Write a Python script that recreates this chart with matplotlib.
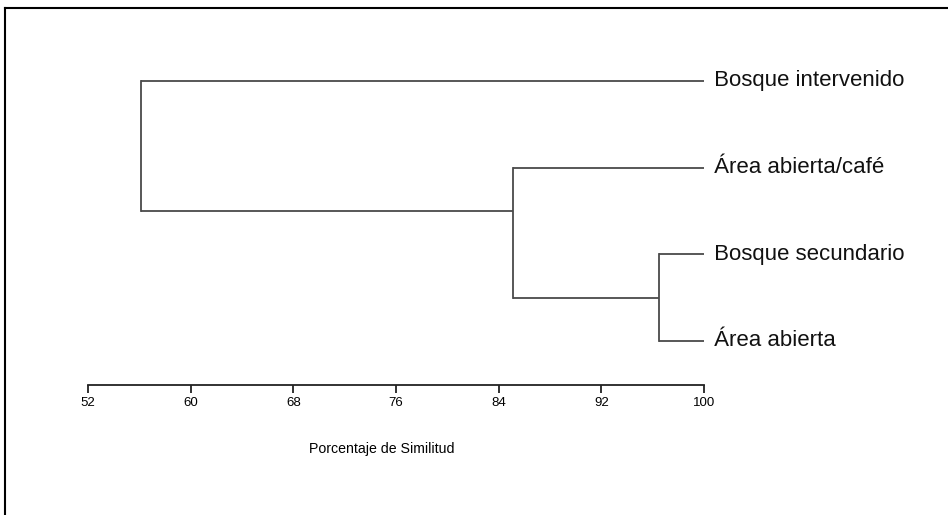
import matplotlib.pyplot as plt
from matplotlib.lines import Line2D

plt.rcParams['font.family'] = ['Liberation Sans', 'DejaVu Sans']

# leaves, top to bottom
labels = ["Bosque intervenido", "Área abierta/café", "Bosque secundario", "Área abierta"]
# merges: (child a, child b, similarity %); children are leaf indices or "n<k>" for earlier merges
merges = [
    (2, 3, 96.5),
    (1, "n0", 85.1),
    (0, "n1", 56.1),
]
ticks = [52, 60, 68, 76, 84, 92, 100]

line_color = '#4a4a4a'

fig = plt.figure(figsize=(9.48, 5.15), dpi=100)
ax = fig.add_axes([88 / 948, 1 - 385 / 515, 616 / 948, 325 / 515])

# node positions (x = similarity, y = row)
pos = {i: (100.0, float(i)) for i in range(len(labels))}
first_leaf = {i: i for i in range(len(labels))}
for k, (a, b, h) in enumerate(merges):
    key = "n%d" % k
    xa, ya = pos[a]
    xb, yb = pos[b]
    ax.plot([xa, h], [ya, ya], color=line_color, lw=1.3, solid_capstyle='butt')
    ax.plot([xb, h], [yb, yb], color=line_color, lw=1.3, solid_capstyle='butt')
    ax.plot([h, h], [ya, yb], color=line_color, lw=1.3, solid_capstyle='projecting')
    first_leaf[key] = min(first_leaf[a], first_leaf[b])
    pos[key] = (h, (first_leaf[a] + first_leaf[b]) / 2.0)

for i, lab in enumerate(labels):
    ax.text(100.35, i, " " + lab, ha='left', va='center', fontsize=16,
            color='#111111', clip_on=False)

ax.set_xlim(52, 100)
ax.set_ylim(3.5077, -0.2423)

for s in ['top', 'right', 'left']:
    ax.spines[s].set_visible(False)
ax.spines['bottom'].set_color('#222222')
ax.spines['bottom'].set_linewidth(1.3)
ax.set_yticks([])
ax.set_xticks(ticks)
ax.set_xticklabels([str(t) for t in ticks], fontsize=9.5)
ax.tick_params(axis='x', direction='out', length=6, width=1.3, color='#222222', pad=3)
ax.set_xlabel("Porcentaje de Similitud", fontsize=10.2)
ax.xaxis.set_label_coords(0.477, -0.175)

# frame: only top and left edges visible (picture is cropped)
fig.add_artist(Line2D([5 / 948, 1], [1 - 8 / 515, 1 - 8 / 515], transform=fig.transFigure,
                      color='black', lw=1.5))
fig.add_artist(Line2D([5 / 948, 5 / 948], [0, 1 - 8 / 515], transform=fig.transFigure,
                      color='black', lw=1.5))

fig.savefig('out.png', dpi=100)
